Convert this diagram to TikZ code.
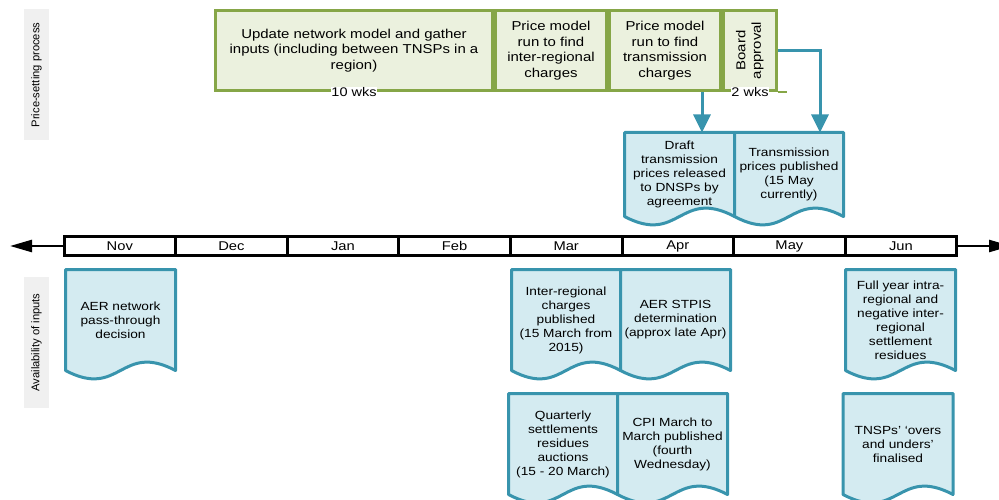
\documentclass[tikz,border=0pt]{standalone}
\usepackage{fontspec}
\setmainfont[FakeStretch=1.16]{Liberation Sans}
\newfontfamily\sideFont{Liberation Sans}
\usetikzlibrary{arrows.meta,positioning,calc,backgrounds}
\definecolor{stageGreen}{HTML}{86A647}
\definecolor{stageFill}{HTML}{EBF1DE}
\definecolor{docBlue}{HTML}{3894AD}
\definecolor{docFill}{HTML}{D4EBF1}
\definecolor{sideGray}{HTML}{F0F0F0}
\tikzstyle{stageBox} = [
  draw=stageGreen,
  fill=stageFill,
  line width=3pt,
  align=center,
  inner sep=0pt,
  minimum height=80pt,
  font=\fontsize{12.9}{15.5}\selectfont]
\tikzstyle{monthBox} = [
  draw=black,
  fill=white,
  line width=3pt,
  inner sep=0pt,
  minimum width=111.6pt,
  minimum height=19pt,
  outer sep=0pt,
  font=\fontsize{12.7}{15}\selectfont]
\tikzstyle{docBox} = [
  align=center,
  inner sep=0pt,
  outer sep=0pt,
  minimum width=110pt,
  font=\fontsize{11.8}{14}\selectfont]
\tikzstyle{sideLabel} = [
  fill=sideGray,
  rotate=90,
  minimum width=131pt,
  minimum height=25pt,
  font=\sideFont\fontsize{11.2}{13}\selectfont]
\tikzstyle{flowArrow} = [
  draw=docBlue,
  line width=3pt,
  -{Triangle[length=18pt,width=17pt]}]
\tikzstyle{timeArrow} = [
  draw=black,
  line width=2.5pt,
  -{Triangle[length=22pt,width=12pt]}]
% document shape with wavy bottom, drawn behind the node text
\newcommand{\docOutline}[1]{
  \begin{scope}[on background layer]
  \draw[docBlue, fill=docFill, line width=3pt, line join=round]
    (#1.north west) -- (#1.north east) -- (#1.south east)
    .. controls ($(#1.south)+(0,-29)$) and ($(#1.south)+(0,29)$) .. (#1.south west)
    -- cycle;
  \end{scope}}

\begin{document}
\begin{tikzpicture}[x=1pt,y=-1pt]
  \clip (0,0) rectangle (999,500);

  \node[sideLabel] (priceSide) at (36.5,75) {Price-setting process};
  \node[sideLabel] (inputSide) at (36.5,342.5) {Availability of inputs};

  % price-setting stages
  \node[stageBox, minimum width=277pt] (update) at (354,50.5) {
    Update network model and gather\\
    inputs (including between TNSPs in a\\
    region)};
  \node[stageBox, minimum width=111pt, right=0pt of update] (interReg) {
    Price model\\ run to find\\ inter-regional\\ charges};
  \node[stageBox, minimum width=111pt, right=0pt of interReg] (transCharges) {
    Price model\\ run to find\\ transmission\\ charges};
  \node[stageBox, minimum width=53pt, right=0pt of transCharges] (approval) {
    \rotatebox{90}{\begin{tabular}{@{}c@{}}Board\\ approval\end{tabular}}};
  \draw[stageGreen, line width=1.5pt] (approval.south east) -- ++(9,0);
  \node[fill=white, inner sep=0.5pt, font=\fontsize{12.5}{14}\selectfont] (tenWks) at (update.south) {10 wks};
  \node[fill=white, inner sep=0.5pt, font=\fontsize{12.5}{14}\selectfont] (twoWks) at (approval.south) {2 wks};

  % timeline
  \foreach \m [count=\i] in {Nov,Dec,Jan,Feb,Mar,Apr,May,Jun}
    \node[monthBox] (m\i) at ({64+111.6*(\i-0.5)},246) {\m};
  \coordinate (leftEnd) at (10,246);
  \coordinate (rightEnd) at (1011,246);
  \draw[timeArrow] (m1.west) -- (leftEnd);
  \draw[timeArrow] (m8.east) -- (rightEnd);

  % outputs
  \node[docBox, minimum height=84pt] (draft) at (679.5,174.5) {
    Draft\\ transmission\\ prices released\\ to DNSPs by\\ agreement};
  \node[docBox, minimum width=109pt, minimum height=84pt, right=0pt of draft] (published) {
    Transmission\\ prices published\\ (15 May\\ currently)};
  \docOutline{draft}
  \docOutline{published}

  \draw[flowArrow] ([xshift=37pt]transCharges.south) -- ([xshift=37pt]transCharges.south |- draft.north);
  \draw[flowArrow] (approval.east) -| ([xshift=31pt]published.north);

  % inputs
  \node[docBox, minimum height=101pt] (passThrough) at (120.5,320) {
    AER network\\ pass-through\\ decision};
  \node[docBox, minimum width=109pt, minimum height=101pt] (interPub) at (566,320) {
    Inter-regional\\ charges\\ published\\ (15 March from\\ 2015)};
  \node[docBox, minimum height=101pt, right=0pt of interPub] (stpis) {
    AER STPIS\\ determination\\ (approx late Apr)};
  \node[docBox, minimum height=101pt] (residues) at (900.5,320) {
    Full year intra-\\ regional and\\ negative inter-\\ regional\\ settlement\\ residues};
  \node[docBox, minimum width=109pt, minimum height=101pt] (auctions) at (563,444) {
    Quarterly\\ settlements\\ residues\\ auctions\\ (15 - 20 March)};
  \node[docBox, minimum height=101pt, right=0pt of auctions] (cpi) {
    CPI March to\\ March published\\ (fourth\\ Wednesday)};
  \node[docBox, minimum height=101pt] (oversUnders) at (898,444) {
    TNSPs' `overs\\ and unders'\\ finalised};
  \foreach \d in {passThrough,interPub,stpis,residues,auctions,cpi,oversUnders}
    {\docOutline{\d}}

\end{tikzpicture}
\end{document}
